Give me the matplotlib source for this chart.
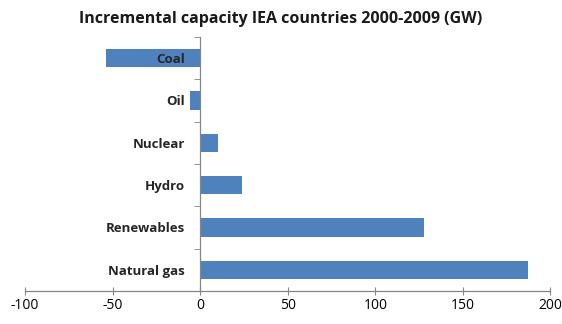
import matplotlib
matplotlib.use('Agg')
import matplotlib.pyplot as plt
import numpy as np

# Incremental capacity by fuel, IEA countries 2000-2009 (GW)
fuels = ['Coal', 'Oil', 'Nuclear', 'Hydro', 'Renewables', 'Natural gas']
capacity_gw = [-53.5, -6, 10, 24, 128, 187]
x_ticks = [-100, -50, 0, 50, 100, 150, 200]

plt.rcParams['font.family'] = ['Open Sans', 'DejaVu Sans']

fig = plt.figure(figsize=(5.62, 3.24), dpi=100)
ax = fig.add_axes([0.0445, 0.102, 0.935, 0.784])

pos = np.arange(len(fuels))
ax.barh(pos, capacity_gw, height=0.43, color='#4F81BD', zorder=1)

ax.set_xlim(-100, 200)
ax.set_ylim(len(fuels) - 0.5, -0.5)

ax.spines['top'].set_visible(False)
ax.spines['right'].set_visible(False)
ax.spines['left'].set_position(('data', 0))
for s in ('left', 'bottom'):
    ax.spines[s].set_color('#868686')
    ax.spines[s].set_linewidth(0.9)

ax.set_xticks(x_ticks)
ax.set_xticklabels([str(v) for v in x_ticks], fontsize=10)
ax.tick_params(axis='x', direction='inout', length=6, color='#868686', pad=2)

ax.set_yticks(pos)
ax.set_yticklabels(fuels, fontsize=9.5, fontweight='bold', color='#262626')
ax.tick_params(axis='y', which='major', length=0, pad=11)
ax.set_yticks(np.arange(-0.5, len(fuels), 1), minor=True)
ax.tick_params(axis='y', which='minor', direction='out', length=4, color='#868686')

fig.suptitle('Incremental capacity IEA countries 2000-2009 (GW)',
             x=0.5, y=0.965, fontsize=11.5, fontweight='bold', color='#1a1a1a')

fig.savefig('out.png', dpi=100)
